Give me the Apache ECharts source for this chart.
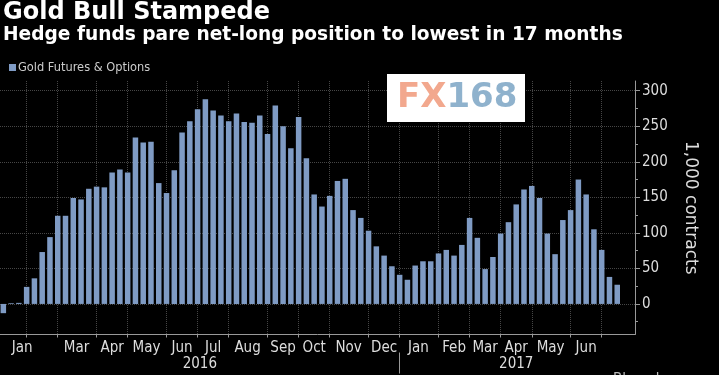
<!DOCTYPE html>
<html><head><meta charset="utf-8">
<script src="https://cdn.jsdelivr.net/npm/echarts@6/dist/echarts.min.js"></script>
<style>html,body{margin:0;padding:0;background:#000;}#c{width:719px;height:375px;}</style>
</head><body><div id="c"></div>
<script>
// ---- data ----
const weekDates = [
 '2016-01-12','2016-01-19','2016-01-26','2016-02-02','2016-02-09','2016-02-16','2016-02-23',
 '2016-03-01','2016-03-08','2016-03-15','2016-03-22','2016-03-29','2016-04-05','2016-04-12',
 '2016-04-19','2016-04-26','2016-05-03','2016-05-10','2016-05-17','2016-05-24','2016-05-31',
 '2016-06-07','2016-06-14','2016-06-21','2016-06-28','2016-07-05','2016-07-12','2016-07-19',
 '2016-07-26','2016-08-02','2016-08-09','2016-08-16','2016-08-23','2016-08-30','2016-09-06',
 '2016-09-13','2016-09-20','2016-09-27','2016-10-04','2016-10-11','2016-10-18','2016-10-25',
 '2016-11-01','2016-11-08','2016-11-15','2016-11-22','2016-11-29','2016-12-06','2016-12-13',
 '2016-12-20','2016-12-27','2017-01-03','2017-01-10','2017-01-17','2017-01-24','2017-01-31',
 '2017-02-07','2017-02-14','2017-02-21','2017-02-28','2017-03-07','2017-03-14','2017-03-21',
 '2017-03-28','2017-04-04','2017-04-11','2017-04-18','2017-04-25','2017-05-02','2017-05-09',
 '2017-05-16','2017-05-23','2017-05-30','2017-06-06','2017-06-13','2017-06-20','2017-06-27',
 '2017-07-04','2017-07-11','2017-07-18'
];
const goldFuturesOptions = [
 -13, 1, 1.5, 24, 36, 73, 94, 124, 124, 149, 147, 162, 165, 164, 185, 189, 185, 234, 227, 228,
 170, 156, 188, 241, 257, 274, 288, 272, 265, 257, 268, 256, 255, 265, 239, 279, 250, 219, 263, 205,
 154, 137, 152, 173, 176, 132, 121, 103, 81, 68, 53, 41, 34, 54, 60, 60, 71, 76, 68, 83,
 121, 93, 49, 66, 99, 115, 140, 161, 166, 149, 99, 70, 118, 132, 175, 154, 105, 76, 38, 27
];
const monthTickDates = ['2016-02-02','2016-03-01','2016-04-05','2016-05-03','2016-06-07','2016-07-05',
 '2016-08-02','2016-09-06','2016-10-04','2016-11-01','2016-12-06','2017-01-03','2017-02-07',
 '2017-03-07','2017-04-04','2017-05-02','2017-06-06','2017-07-04'];
const monthLabels = ['Jan','Mar','Apr','May','Jun','Jul','Aug','Sep','Oct','Nov','Dec',
 'Jan','Feb','Mar','Apr','May','Jun'];
const monthLabelDates = ['2016-01-29','2016-03-18','2016-04-19','2016-05-20','2016-06-21','2016-07-19',
 '2016-08-19','2016-09-20','2016-10-18','2016-11-18','2016-12-20','2017-01-20','2017-02-21',
 '2017-03-21','2017-04-18','2017-05-19','2017-06-20'];
const yearLabels = ['2016','2017'];
const yearLabelDates = ['2016-07-07','2017-04-18'];
const yearSeparatorDates = ['2017-01-03'];
const yTickValues = [0, 50, 100, 150, 200, 250, 300];
const yMinorTickValues = [-25, 25, 75, 125, 175, 225, 275];
const xRange = ['2016-01-09','2017-08-03'];
const yRange = [-43, 313.6];

// ---- chart ----
// dates -> day numbers, plotted on a linear value axis
function day(s){ const p = s.split('-').map(Number); return Math.round(Date.UTC(p[0], p[1]-1, p[2]) / 86400000); }
const monthMap = {}; monthLabelDates.forEach((d,i)=>{ monthMap[day(d)] = monthLabels[i]; });
const yearMap = {}; yearLabelDates.forEach((d,i)=>{ yearMap[day(d)] = yearLabels[i]; });

const AXF = "'DejaVu Sans Condensed','DejaVu Sans',sans-serif";
const gridStyle = {type: 'dotted', color: '#464646', width: 1};
const chart = echarts.init(document.getElementById('c'));
chart.setOption({
  backgroundColor: '#000',
  animation: false,
  title: [
    {text: 'Gold Bull Stampede', left: 3, top: 1, padding: 0,
     textStyle: {color: '#fff', fontSize: 24, fontWeight: 'bold', fontFamily: 'DejaVu Sans'}},
    {text: 'Hedge funds pare net-long position to lowest in 17 months', left: 3, top: 26, padding: 0,
     textStyle: {color: '#fff', fontSize: 18.6, fontWeight: 'bold', fontFamily: 'DejaVu Sans'}}
  ],
  legend: {
    left: 9, top: 61, padding: 0, itemWidth: 7, itemHeight: 7, icon: 'rect',
    textStyle: {color: '#ccc', fontSize: 12.7, fontFamily: AXF, padding: [0,0,0,-3]},
    data: ['Gold Futures & Options']
  },
  grid: {left: 0, right: 84, top: 81, bottom: 40.5, containLabel: false},
  xAxis: [
    {type: 'value', min: day(xRange[0]), max: day(xRange[1]), position: 'bottom', scale: true,
     axisLine: {onZero: false, lineStyle: {color: '#999', width: 1}},
     axisTick: {show: true, customValues: monthTickDates.map(day), length: 3, lineStyle: {color: '#999'}},
     axisLabel: {customValues: monthLabelDates.map(day), formatter: v => monthMap[Math.round(v)] || '',
       color: '#ddd', fontSize: 15, fontFamily: AXF, margin: 6, hideOverlap: false},
     splitLine: {show: true, lineStyle: gridStyle}},
    {type: 'value', min: day(xRange[0]), max: day(xRange[1]), position: 'bottom', offset: 18, scale: true,
     axisLine: {show: false, onZero: false},
     axisTick: {show: true, customValues: yearSeparatorDates.map(day), length: 21, lineStyle: {color: '#999'}},
     axisLabel: {customValues: yearLabelDates.map(day), formatter: v => yearMap[Math.round(v)] || '',
       color: '#ddd', fontSize: 15, fontFamily: AXF, margin: 4, hideOverlap: false},
     splitLine: {show: false}}
  ],
  yAxis: [
    {type: 'value', position: 'right', min: yRange[0], max: yRange[1],
     name: '1,000 contracts', nameLocation: 'middle', nameRotate: -90, nameGap: 47,
     nameTextStyle: {color: '#ddd', fontSize: 17, fontFamily: 'DejaVu Sans'},
     axisLine: {show: true, onZero: false, lineStyle: {color: '#999', width: 1}},
     axisTick: {show: true, customValues: yTickValues, length: 5, lineStyle: {color: '#999'}},
     axisLabel: {customValues: yTickValues, color: '#ddd', fontSize: 15, fontFamily: AXF, margin: 7},
     splitLine: {show: true, lineStyle: gridStyle}},
    {type: 'value', position: 'right', min: yRange[0], max: yRange[1],
     axisLine: {show: false, onZero: false},
     axisTick: {show: true, customValues: yMinorTickValues, length: 3, lineStyle: {color: '#999'}},
     axisLabel: {show: false}, splitLine: {show: false}}
  ],
  series: [{
    name: 'Gold Futures & Options', type: 'bar', xAxisIndex: 0, yAxisIndex: 0,
    barWidth: 5.5, itemStyle: {color: '#7f9bc4'},
    data: weekDates.map((d,i)=>[day(d), goldFuturesOptions[i]])
  }],
  graphic: [
    {type: 'rect', left: 387, top: 74, shape: {width: 138, height: 48}, style: {fill: '#fff'}, z: 100},
    {type: 'text', left: 397, top: 81, z: 101,
     style: {text: '{a|FX}{b|168}', rich: {
       a: {fill: '#f2a88e', fontSize: 34, fontWeight: 'bold', fontFamily: 'DejaVu Sans'},
       b: {fill: '#8fb2cd', fontSize: 34, fontWeight: 'bold', fontFamily: 'DejaVu Sans'}}}},
    {type: 'text', left: 613, top: 373, z: 101,
     style: {text: 'Bloomberg', fill: '#bbb', fontSize: 15, fontFamily: AXF}}
  ]
});
</script></body></html>
